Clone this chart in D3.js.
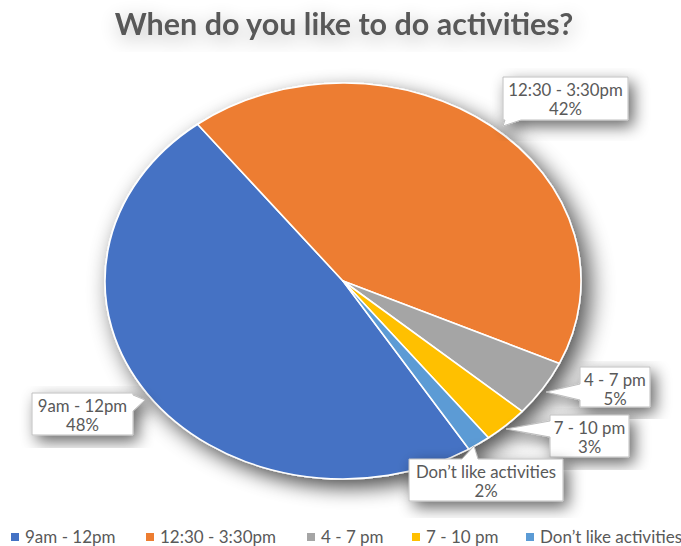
<!DOCTYPE html>
<html><head><meta charset="utf-8">
<script src="https://cdn.jsdelivr.net/npm/d3@7"></script>
<style>body{margin:0;background:#fff}svg{display:block}</style>
</head><body>
<svg id="c" width="681" height="546"></svg>
<script>
const title = "When do you like to do activities?";
const categories = ["9am - 12pm", "12:30 - 3:30pm", "4 - 7 pm", "7 - 10 pm", "Don\u2019t like activities"];
const values = [48.4, 42.3, 4.6, 3.1, 1.6];
const colors = ["#4472C4", "#ED7D31", "#A5A5A5", "#FFC000", "#5B9BD5"];

// layout (label boxes and callout tips)
const labelBoxes = [
  {x0:32,y0:393,x1:133,y1:435, tip:[145,400], side:"right"},
  {x0:503,y0:77,x1:628,y1:120, tip:[503,126], side:"bottom"},
  {x0:580,y0:367,x1:650,y1:407, tip:[546,392], side:"left"},
  {x0:550,y0:415,x1:629,y1:457, tip:[506,429], side:"left"},
  {x0:409,y0:459,x1:563,y1:501, tip:[474,446], side:"top"}
];
const legendX = [11, 146, 307, 412, 526];

const svg = d3.select("#c");
const defs = svg.append("defs");
function shadow(id, dx, dy, sd, op){
  const f = defs.append("filter").attr("id", id).attr("x","-30%").attr("y","-30%").attr("width","160%").attr("height","160%");
  f.append("feGaussianBlur").attr("in","SourceAlpha").attr("stdDeviation", sd).attr("result","b");
  f.append("feOffset").attr("in","b").attr("dx",dx).attr("dy",dy).attr("result","o");
  f.append("feComponentTransfer").attr("in","o").attr("result","t")
    .append("feFuncA").attr("type","linear").attr("slope", op);
  const m = f.append("feMerge");
  m.append("feMergeNode").attr("in","t");
  m.append("feMergeNode").attr("in","SourceGraphic");
}
shadow("pieShadow", 7, 8, 10, 0.7);
shadow("textShadow", 2, 5, 10, 0.3);
shadow("boxShadow", 5, 6, 8, 0.6);

// title
svg.append("text").attr("x", 344).attr("y", 35).attr("text-anchor","middle")
  .attr("font-family","Lato, 'Open Sans', sans-serif").attr("font-weight","bold")
  .attr("font-size", 30.5).attr("fill","#595959").attr("filter","url(#textShadow)")
  .text(title);

// pie (ellipse)
const cx = 343, cy = 281, rx = 238, ry = 198;
const startA = 148.1 * Math.PI / 180;
const pie = d3.pie().sort(null).value(d => d).startAngle(startA).endAngle(startA + 2*Math.PI);
const arcs = pie(values);
const arc = d3.arc().innerRadius(0).outerRadius(ry);
const total = d3.sum(values);
const g = svg.append("g").attr("transform", `translate(${cx},${cy}) scale(${rx/ry},1)`);
const pg = g.append("g").attr("filter","url(#pieShadow)");
pg.selectAll("path").data(arcs).join("path")
  .attr("d", arc).attr("fill", (d,i) => colors[i])
  .attr("stroke","#fff").attr("stroke-width",1.6).attr("vector-effect","non-scaling-stroke")
  .attr("stroke-linejoin","round");

// callout labels
function calloutPath(b){
  const [tx,ty] = b.tip;
  const w = 16;
  let p;
  if (b.side === "bottom"){
    const a = b.x0+2, c = b.x0+2+w;
    p = `M${b.x0},${b.y0}H${b.x1}V${b.y1}H${c}L${tx},${ty}L${a},${b.y1}H${b.x0}Z`;
  } else if (b.side === "left"){
    const a = Math.max(b.y0+2, Math.min(b.y1-2-w, ty - w/2)), c = a + w;
    p = `M${b.x0},${b.y0}H${b.x1}V${b.y1}H${b.x0}V${c}L${tx},${ty}L${b.x0},${a}Z`;
  } else if (b.side === "right"){
    const a = b.y0+2, c = a + w;
    p = `M${b.x0},${b.y0}H${b.x1}V${a}L${tx},${ty}L${b.x1},${c}V${b.y1}H${b.x0}Z`;
  } else {
    const a = Math.max(b.x0+2, tx - w/2 - 4), c = a + w;
    p = `M${b.x0},${b.y0}H${a}L${tx},${ty}L${c},${b.y0}H${b.x1}V${b.y1}H${b.x0}Z`;
  }
  return p;
}
const fmt = d3.format(".0%");
const lg = svg.append("g");
arcs.forEach((d,i) => {
  const b = labelBoxes[i];
  const gg = lg.append("g");
  gg.append("path").attr("d", calloutPath(b)).attr("fill","#fff")
    .attr("stroke","#bfbfbf").attr("stroke-width",1).attr("filter","url(#boxShadow)");
  const mx = (b.x0+b.x1)/2;
  const t = gg.append("text").attr("text-anchor","middle")
    .attr("font-family","Lato, 'Open Sans', sans-serif").attr("font-size",16.8).attr("fill","#595959");
  t.append("tspan").attr("x", mx).attr("y", b.y0+19).text(categories[i]);
  t.append("tspan").attr("x", mx).attr("y", b.y0+38).text(fmt(d.value/total));
});

// legend
const leg = svg.append("g");
categories.forEach((c,i) => {
  leg.append("rect").attr("x", legendX[i]).attr("y", 533).attr("width",8).attr("height",8).attr("fill", colors[i]);
  leg.append("text").attr("x", legendX[i]+14).attr("y", 543)
    .attr("font-family","Lato, 'Open Sans', sans-serif").attr("font-size",17).attr("fill","#595959").text(c);
});
</script>
</body></html>
